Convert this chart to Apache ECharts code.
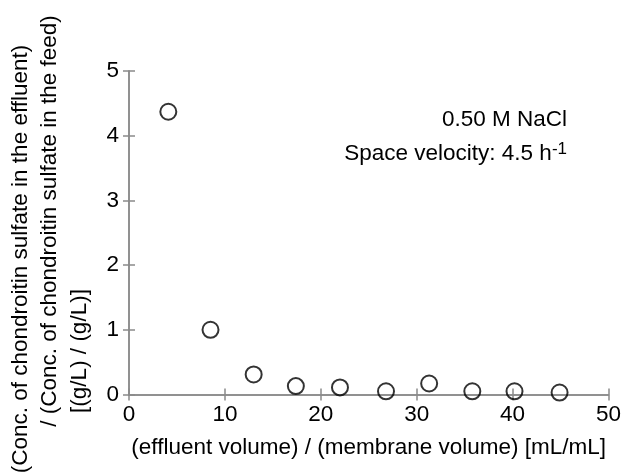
<!DOCTYPE html>
<html>
<head>
<meta charset="utf-8">
<style>
    html, body { margin: 0; padding: 0; background: #fff; }
    #chart { width: 624px; height: 475px; }
</style>
<script src="https://cdn.jsdelivr.net/npm/echarts@6/dist/echarts.min.js"></script>
</head>
<body>
<div id="chart"></div>
<script>
    // 读图得到的数据
    const volumeRatio = [4.1, 8.5, 13.0, 17.4, 22.0, 26.8, 31.3, 35.8, 40.2, 44.9];
    const concRatio = [4.37, 1.00, 0.31, 0.13, 0.11, 0.05, 0.17, 0.05, 0.05, 0.03];
    const xTicks = [0, 10, 20, 30, 40, 50];
    const yTicks = [0, 1, 2, 3, 4, 5];

    const font = '"Liberation Sans", Arial, sans-serif';
    const fs = 22.5;
    const axisGrey = '#8a8a8a';

    const myChart = echarts.init(document.getElementById('chart'));

    const baseAxis = {
        axisLine: { show: true, lineStyle: { color: axisGrey, width: 1.5 } },
        axisTick: { show: true, inside: true, length: 6, lineStyle: { color: axisGrey, width: 1.5 } },
        splitLine: { show: false }
    };

    const option = {
        animation: false,
        backgroundColor: '#fff',
        grid: { left: 129, right: 15, top: 71, bottom: 80.5 },
        xAxis: [{
            ...baseAxis,
            type: 'value',
            min: xTicks[0],
            max: xTicks[xTicks.length - 1],
            interval: 10,
            name: '(effluent volume) / (membrane volume) [mL/mL]',
            nameLocation: 'middle',
            nameGap: 42,
            nameTextStyle: { color: '#000', fontSize: fs, fontFamily: font },
            axisLabel: { color: '#000', fontSize: fs, fontFamily: font, margin: 9 }
        }, {
            ...baseAxis,
            type: 'value',
            position: 'top',
            min: xTicks[0],
            max: xTicks[xTicks.length - 1],
            interval: 10,
            axisLabel: { show: false }
        }],
        yAxis: [{
            ...baseAxis,
            type: 'value',
            min: yTicks[0],
            max: yTicks[yTicks.length - 1],
            interval: 1,
            axisLabel: { color: '#000', fontSize: fs, fontFamily: font, margin: 10, padding: [0, 0, 8, 0] }
        }, {
            ...baseAxis,
            type: 'value',
            position: 'right',
            min: yTicks[0],
            max: yTicks[yTicks.length - 1],
            interval: 1,
            axisLabel: { show: false }
        }],
        graphic: [
            // 纵轴标题（三行，旋转）
            {
                type: 'text', x: 21, y: 259, rotation: Math.PI / 2,
                style: { text: '(Conc. of chondroitin sulfate in the effluent)', font: fs + 'px ' + font, fill: '#000', align: 'center', verticalAlign: 'middle' }
            },
            {
                type: 'text', x: 50, y: 221, rotation: Math.PI / 2,
                style: { text: '/ (Conc. of chondroitin sulfate in the feed)', font: fs + 'px ' + font, fill: '#000', align: 'center', verticalAlign: 'middle' }
            },
            {
                type: 'text', x: 80, y: 351, rotation: Math.PI / 2,
                style: { text: '[(g/L) / (g/L)]', font: fs + 'px ' + font, fill: '#000', align: 'center', verticalAlign: 'middle' }
            },
            // 图内注释
            {
                type: 'text', x: 567, y: 120,
                style: { text: '0.50 M NaCl', font: fs + 'px ' + font, fill: '#000', align: 'right', verticalAlign: 'middle' }
            },
            {
                type: 'text', x: 567, y: 153,
                style: {
                    text: '{n|Space velocity: 4.5 h}{s|-1}',
                    align: 'right', verticalAlign: 'middle',
                    rich: {
                        n: { font: fs + 'px ' + font, fill: '#000', verticalAlign: 'bottom' },
                        s: { font: '17px ' + font, fill: '#000', verticalAlign: 'top', padding: [0, 0, 8, 0] }
                    }
                }
            }
        ],
        series: [{
            name: 'conc',
            type: 'scatter',
            xAxisIndex: 0,
            yAxisIndex: 0,
            symbol: 'circle',
            symbolSize: 16,
            data: volumeRatio.map((x, i) => [x, concRatio[i]]),
            itemStyle: { color: 'rgba(255,255,255,0)', borderColor: '#000', borderWidth: 2 }
        }]
    };

    myChart.setOption(option);
</script>
</body>
</html>
